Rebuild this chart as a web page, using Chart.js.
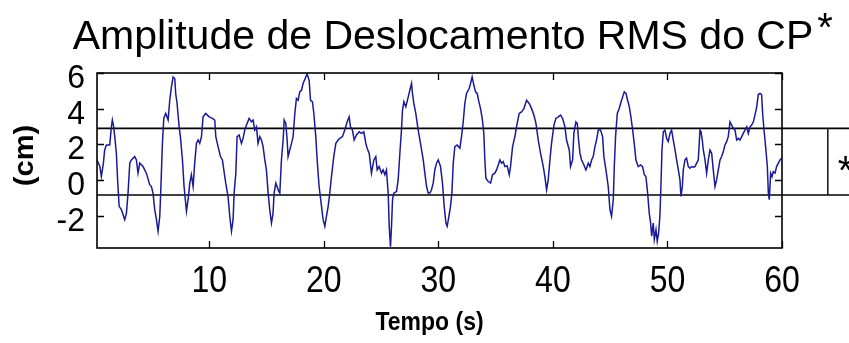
<!DOCTYPE html>
<html lang="pt">
<head>
<meta charset="utf-8">
<title>Amplitude de Deslocamento RMS do CP</title>
<script src="https://cdn.jsdelivr.net/npm/chart.js@4/dist/chart.umd.min.js"></script>
<style>
  html, body { margin: 0; padding: 0; background: #ffffff; overflow: hidden; }
  #grafico { display: block; }
</style>
</head>
<body>
<canvas id="grafico" width="849" height="343"></canvas>
<script>
// Tempo (s) de cada amostra do deslocamento do centro de pressão
const tempo = [
  0.2, 0.45, 0.58, 0.75, 0.87, 1.02, 1.31, 1.46, 1.54, 1.65, 1.75, 1.89, 2.0, 2.13, 2.33, 2.62, 2.77, 2.91,
  3.06, 3.2, 3.35, 3.49, 3.64, 3.78, 3.93, 4.22, 4.51, 4.8, 4.95, 5.09, 5.24, 5.39, 5.53, 5.68, 5.76, 5.91,
  6.03, 6.2, 6.41, 6.55, 6.7, 6.84, 6.99, 7.07, 7.19, 7.37, 7.48, 7.66, 7.8, 8.01, 8.15, 8.3, 8.44, 8.59,
  8.73, 8.88, 9.03, 9.17, 9.32, 9.46, 9.69, 9.99, 10.28, 10.48, 10.57, 10.77, 10.98, 11.15, 11.27, 11.44,
  11.64, 11.79, 11.94, 12.08, 12.17, 12.32, 12.43, 12.61, 12.81, 12.95, 13.1, 13.25, 13.48, 13.68, 13.83,
  13.97, 14.12, 14.26, 14.41, 14.56, 14.7, 14.85, 14.99, 15.14, 15.28, 15.43, 15.57, 15.66, 15.81, 15.92,
  16.04, 16.16, 16.3, 16.45, 16.54, 16.68, 16.8, 16.88, 17.03, 17.18, 17.32, 17.47, 17.61, 17.76, 17.9,
  18.05, 18.19, 18.43, 18.54, 18.72, 18.84, 19.01, 19.13, 19.3, 19.42, 19.59, 19.8, 19.94, 20.09, 20.23,
  20.38, 20.52, 20.67, 20.87, 21.05, 21.25, 21.4, 21.63, 21.83, 22.04, 22.21, 22.33, 22.5, 22.65, 22.85,
  23.09, 23.29, 23.49, 23.67, 23.78, 23.96, 24.16, 24.37, 24.54, 24.66, 24.83, 25.04, 25.18, 25.33, 25.47,
  25.62, 25.71, 25.82, 25.91, 26.0, 26.11, 26.35, 26.49, 26.64, 26.78, 26.87, 26.99, 27.16, 27.37, 27.51,
  27.66, 27.74, 27.86, 28.03, 28.24, 28.44, 28.68, 28.82, 28.97, 29.11, 29.26, 29.4, 29.55, 29.69, 29.84,
  29.99, 30.19, 30.36, 30.51, 30.66, 30.77, 30.92, 31.06, 31.18, 31.3, 31.44, 31.64, 31.88, 32.02, 32.17,
  32.31, 32.46, 32.69, 32.81, 32.95, 33.1, 33.25, 33.39, 33.54, 33.68, 33.83, 33.97, 34.06, 34.15, 34.35,
  34.56, 34.73, 34.93, 35.08, 35.23, 35.37, 35.52, 35.66, 35.81, 36.01, 36.19, 36.3, 36.48, 36.68, 36.88,
  37.06, 37.26, 37.47, 37.7, 37.93, 38.14, 38.34, 38.52, 38.72, 38.92, 39.16, 39.3, 39.45, 39.59, 39.74,
  39.88, 40.09, 40.26, 40.47, 40.67, 40.85, 41.05, 41.19, 41.43, 41.54, 41.72, 41.83, 42.01, 42.13, 42.24,
  42.36, 42.5, 42.71, 42.88, 43.09, 43.23, 43.38, 43.52, 43.67, 43.81, 43.96, 44.16, 44.34, 44.45, 44.63,
  44.83, 44.98, 45.12, 45.27, 45.36, 45.47, 45.62, 45.79, 45.91, 46.09, 46.23, 46.38, 46.52, 46.67, 46.81,
  46.96, 47.1, 47.25, 47.45, 47.66, 47.83, 47.98, 48.12, 48.27, 48.41, 48.53, 48.62, 48.76, 48.85, 49.0,
  49.11, 49.23, 49.34, 49.43, 49.52, 49.64, 49.78, 49.93, 50.07, 50.22, 50.36, 50.51, 50.66, 50.8, 50.95,
  51.09, 51.18, 51.3, 51.38, 51.53, 51.67, 51.82, 51.97, 52.11, 52.26, 52.4, 52.55, 52.69, 52.84, 52.93,
  53.04, 53.13, 53.28, 53.42, 53.57, 53.71, 53.86, 54.0, 54.15, 54.29, 54.44, 54.59, 54.73, 54.88, 55.02,
  55.17, 55.31, 55.46, 55.6, 55.75, 55.9, 56.04, 56.19, 56.33, 56.48, 56.62, 56.77, 56.92, 57.06, 57.21,
  57.35, 57.5, 57.64, 57.79, 57.93, 58.08, 58.22, 58.31, 58.43, 58.57, 58.72, 58.81, 58.89, 59.01, 59.13,
  59.24, 59.39, 59.53, 59.68, 59.83, 59.97
];

// Deslocamento do CP (cm) em cada instante
const deslocamento = [
  1.12, 0.75, 0.19, 0.9, 1.68, 1.96, 1.96, 3.0, 3.36, 3.0, 2.43, 1.5, 0.0, -1.48, -1.67, -2.23, -1.86, -0.74,
  0.94, 1.12, 1.22, 1.31, 1.12, 0.38, 0.94, 0.75, 0.38, -0.27, -0.37, -0.74, -1.67, -2.23, -2.88, -2.04, -0.74, 2.05,
  3.45, 3.73, 3.36, 4.47, 5.22, 5.78, 5.69, 4.85, 4.29, 2.98, 2.43, 1.12, -0.37, -1.76, -1.11, -0.18, 0.29, -0.37,
  0.94, 2.05, 2.24, 2.05, 2.43, 3.54, 3.73, 3.54, 3.45, 3.36, 2.43, 1.87, 1.31, 1.12, 0.56, -0.18,
  -0.93, -2.04, -2.88, -2.23, -0.74, 0.38, 2.43, 2.52, 2.05, 2.33, 2.8, 3.08, 3.45, 3.26, 3.36,
  2.8, 2.98, 2.05, 2.43, 2.24, 1.87, 1.12, 0.56, -0.74, -1.67, -2.42, -1.86, -0.74, -0.18, -0.37,
  -0.6, -0.74, 1.12, 2.24, 3.36, 3.17, 2.24, 1.31, 1.68, 2.05, 2.43, 3.73, 4.57, 4.47, 4.94,
  5.03, 5.41, 5.78, 5.96, 5.59, 4.47, 4.38, 3.73, 2.43, 1.12, -0.37, -1.48, -2.23, -2.6, -2.04,
  -1.48, -0.74, 0.19, 1.31, 2.05, 2.24, 2.33, 2.43, 2.8, 3.26, 3.54, 2.98, 2.8, 2.24, 2.52,
  2.7, 2.61, 2.7, 2.05, 1.78, 1.5, 0.38, 1.12, 1.31, 0.56, 0.75, 0.38, 0.56, 0.29, 0.56,
  -0.74, -2.6, -3.75, -2.6, -1.11, -0.74, -0.65, 0.0, 1.5, 2.8, 3.92, 4.38, 4.1, 4.66, 5.03,
  5.41, 4.85, 4.29, 3.73, 2.8, 2.05, 1.12, 0.38, -0.37, -0.74, -0.74, -0.55, -0.18, 0.56, 0.94,
  1.12, 0.75, -0.18, -1.48, -2.42, -2.6, -2.04, -1.48, -0.74, 0.94, 1.87, 1.96, 1.78, 2.43, 3.26,
  4.29, 4.85, 5.13, 5.41, 5.78, 5.31, 4.94, 4.85, 4.38, 4.0, 3.45, 2.61, 1.12, 0.1, -0.09,
  -0.18, 0.29, 0.38, 0.56, 0.84, 1.12, 0.94, 1.03, 0.75, 0.79, 0.29, 0.75, 1.87, 2.43, 3.17,
  3.73, 3.82, 4.0, 4.47, 4.29, 4.0, 3.64, 3.17, 2.24, 1.5, 0.75, 0.19, -0.55, 0.0, 1.12,
  2.05, 3.08, 3.45, 3.54, 3.64, 3.45, 2.98, 2.24, 1.68, 0.75, 1.12, 2.61, 3.26, 3.17, 2.24,
  1.5, 1.12, 0.84, 0.56, 0.94, 0.75, 1.12, 1.31, 1.87, 2.24, 2.8, 2.8, 2.43, 1.31, 0.56,
  -0.37, -1.67, -2.04, -1.11, 0.75, 2.43, 3.73, 4.01, 4.29, 4.66, 4.94, 4.85, 4.47, 4.1, 3.54,
  2.8, 2.05, 1.12, 0.75, 0.84, 0.75, 0.29, 0.19, -0.74, -1.86, -2.42, -3.16, -2.42, -3.35, -2.79,
  -3.44, -2.97, -2.04, -0.37, 1.68, 2.7, 2.8, 2.33, 2.15, 2.61, 2.8, 2.24, 1.68, 1.12, 0.56,
  0.0, -0.93, -0.37, 0.56, 1.12, 1.22, 0.75, 0.66, 0.75, 0.71, 0.75, 0.94, 1.12, 2.8, 2.7,
  2.24, 1.68, 1.12, 0.38, 1.12, 1.68, 1.5, 0.56, -0.37, 0.0, 0.56, 1.12, 1.31, 1.59, 1.96,
  2.15, 2.43, 3.26, 3.08, 2.89, 2.8, 2.24, 2.33, 2.24, 2.43, 2.61, 2.8, 2.98, 2.61, 2.98,
  3.08, 3.26, 3.64, 4.1, 4.79, 4.85, 4.79, 3.73, 2.8, 1.87, 0.75, -0.74, -1.11, 0.38, 0.19,
  0.47, 0.38, 0.75, 0.94, 1.12, 1.22
];

// Faixa de amplitude RMS marcada pelas linhas horizontais (cm)
const limitesRms = [2.89, -0.85];

// Rótulos dos eixos
const ticksTempo = [10, 20, 30, 40, 50, 60];
const ticksDeslocamento = [-2, 0, 2, 4, 6];

// Limites dos eixos
const faixaTempo = [0.2, 60];
const faixaDeslocamento = [-3.82, 6];

// Posição (em segundos, fora do eixo) do colchete que marca a faixa RMS
const tempoColchete = 64;
const tempoFimLinhas = 67;

const fonte = '"Liberation Sans", Arial, Helvetica, sans-serif';
const corSinal = '#1a1a96';

const serie = tempo.map((t, i) => ({ x: t, y: deslocamento[i] }));
const linhaRms = (v) => [{ x: faixaTempo[0], y: v }, { x: tempoFimLinhas, y: v }];

// Moldura, marcas dos eixos e textos, desenhados a partir das escalas do gráfico
const molduraEixos = {
  id: 'molduraEixos',
  afterDatasetsDraw(chart) {
    const { ctx, chartArea: a, scales: { x, y } } = chart;
    const marca = 7;
    ctx.save();
    ctx.strokeStyle = '#000000';
    ctx.lineWidth = 1.6;
    ctx.strokeRect(a.left, a.top, a.right - a.left, a.bottom - a.top);
    ctx.beginPath();
    x.ticks.forEach(t => {
      const px = Math.round(x.getPixelForValue(t.value)) + 0.5;
      ctx.moveTo(px, a.bottom); ctx.lineTo(px, a.bottom - marca);
      ctx.moveTo(px, a.top); ctx.lineTo(px, a.top + marca);
    });
    y.ticks.forEach(t => {
      const py = Math.round(y.getPixelForValue(t.value)) + 0.5;
      ctx.moveTo(a.left, py); ctx.lineTo(a.left + marca, py);
      ctx.moveTo(a.right, py); ctx.lineTo(a.right - marca, py);
    });
    ctx.lineWidth = 1.3;
    ctx.stroke();
    ctx.restore();
  },
  afterDraw(chart) {
    const { ctx, chartArea: a, scales: { x, y } } = chart;
    ctx.save();
    ctx.fillStyle = '#000000';

    // Rótulos do eixo do tempo
    ctx.font = '32px ' + fonte;
    ctx.textAlign = 'center';
    ctx.textBaseline = 'alphabetic';
    x.ticks.forEach(t => {
      ctx.save();
      ctx.translate(x.getPixelForValue(t.value), a.bottom + 44);
      ctx.scale(1, 1.14);
      ctx.fillText(String(t.value), 0, 0);
      ctx.restore();
    });

    // Rótulos do eixo do deslocamento
    ctx.textAlign = 'right';
    y.ticks.forEach(t => {
      ctx.save();
      ctx.translate(a.left - 12, y.getPixelForValue(t.value) + 15);
      ctx.scale(1, 1.06);
      ctx.fillText(String(t.value), 0, 0);
      ctx.restore();
    });

    // Título do eixo horizontal
    ctx.font = 'bold 23px ' + fonte;
    ctx.textAlign = 'center';
    ctx.save();
    ctx.translate((a.left + a.right) / 2 - 10, a.bottom + 82);
    ctx.scale(1, 1.1);
    ctx.fillText('Tempo (s)', 0, 0);
    ctx.restore();

    // Título do eixo vertical
    ctx.save();
    ctx.font = 'bold 27px ' + fonte;
    ctx.translate(26, (a.top + a.bottom) / 2 - 5);
    ctx.rotate(-Math.PI / 2);
    ctx.scale(1.08, 1);
    ctx.textAlign = 'center';
    ctx.textBaseline = 'middle';
    ctx.fillText('(cm)', 0, 0);
    ctx.restore();

    // Título do gráfico com asterisco sobrescrito
    const titulo = 'Amplitude de Deslocamento RMS do CP';
    ctx.font = '41px ' + fonte;
    ctx.textAlign = 'left';
    const largura = ctx.measureText(titulo).width;
    const inicio = (a.left + a.right) / 2 + 3.5 - largura / 2;
    ctx.fillText(titulo, inicio, 49);
    ctx.font = '40px ' + fonte;
    ctx.fillText('*', inicio + largura + 4, 41);

    // Asterisco ao lado do colchete da faixa RMS
    const meio = (limitesRms[0] + limitesRms[1]) / 2;
    ctx.fillText('*', x.getPixelForValue(tempoColchete) + 10, y.getPixelForValue(meio) + 22);
    ctx.restore();
  }
};

new Chart(document.getElementById('grafico'), {
  type: 'line',
  data: {
    datasets: [
      {
        label: 'Deslocamento do CP',
        data: serie,
        borderColor: corSinal,
        borderWidth: 1.5,
        pointRadius: 0,
        tension: 0,
        fill: false
      },
      {
        label: 'Limite superior',
        data: linhaRms(limitesRms[0]),
        borderColor: '#000000',
        borderWidth: 1.6,
        pointRadius: 0,
        clip: false
      },
      {
        label: 'Limite inferior',
        data: linhaRms(limitesRms[1]),
        borderColor: '#000000',
        borderWidth: 1.6,
        pointRadius: 0,
        clip: false
      },
      {
        label: 'Faixa RMS',
        data: [{ x: tempoColchete, y: limitesRms[0] }, { x: tempoColchete, y: limitesRms[1] }],
        borderColor: '#000000',
        borderWidth: 1.4,
        pointRadius: 0,
        clip: false
      }
    ]
  },
  options: {
    responsive: false,
    devicePixelRatio: 1,
    animation: false,
    layout: { padding: { left: 97, right: 67, top: 73, bottom: 95 } },
    plugins: {
      legend: { display: false },
      title: { display: false },
      tooltip: { enabled: false }
    },
    scales: {
      x: {
        type: 'linear',
        display: false,
        min: faixaTempo[0],
        max: faixaTempo[1],
        afterBuildTicks: (s) => { s.ticks = ticksTempo.map(v => ({ value: v })); }
      },
      y: {
        type: 'linear',
        display: false,
        min: faixaDeslocamento[0],
        max: faixaDeslocamento[1],
        afterBuildTicks: (s) => { s.ticks = ticksDeslocamento.map(v => ({ value: v })); }
      }
    }
  },
  plugins: [molduraEixos]
});
</script>
</body>
</html>
